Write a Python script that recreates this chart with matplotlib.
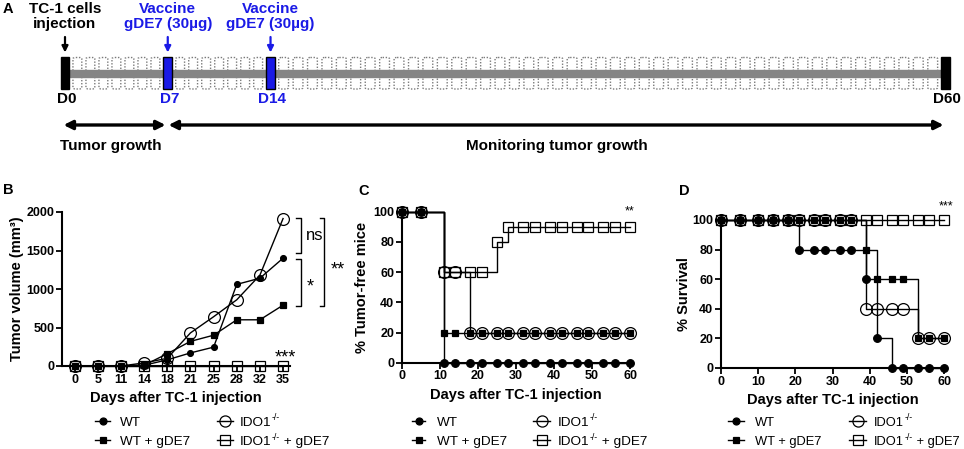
import numpy as np
import matplotlib
matplotlib.use('Agg')
import matplotlib.pyplot as plt
from matplotlib.patches import Rectangle, FancyBboxPatch
from matplotlib.lines import Line2D

plt.rcParams['font.family'] = ['Liberation Sans', 'DejaVu Sans']
plt.rcParams['font.weight'] = 'bold'
plt.rcParams['axes.labelweight'] = 'bold'

# --- A: schedule
sched_days = [0, 7, 14, 60]
sched_labels = ['D0', 'D7', 'D14', 'D60']
sched_top = ['TC-1 cells\ninjection', 'Vaccine\ngDE7 (30µg)', 'Vaccine\ngDE7 (30µg)', '']
sched_vaccine = [False, True, True, False]
phases = [(0, 7, 'Tumor growth'), (7, 60, 'Monitoring tumor growth')]

# --- B: tumor volume
b_days = ['0', '5', '11', '14', '18', '21', '25', '28', '32', '35']
b_wt = [0, 0, 0, 10, 80, 170, 245, 1060, 1140, 1400]
b_wt_gde7 = [0, 0, 0, 10, 160, 320, 400, 600, 600, 790]
b_ido = [0, 0, 0, 40, 100, 430, 640, 860, 1180, 1915]
b_ido_gde7 = [0, 0, 0, 0, 0, 0, 0, 0, 0, 0]

# --- C: tumor-free mice
c_days = [0, 5, 11, 14, 18, 21, 25, 28, 32, 35, 39, 42, 46, 49, 53, 56, 60]
c_wt = [100, 100] + [0] * 15
c_wt_gde7 = [100, 100] + [20] * 15
c_ido = [100, 100, 60, 60] + [20] * 13
c_ido_gde7 = [100, 100, 60, 60, 60, 60, 80] + [90] * 10

# --- D: survival
d_days = [0, 5, 10, 14, 18, 21, 25, 28, 32, 35, 39, 42, 46, 49, 53, 56, 60]
d_wt = [100] * 5 + [80] * 5 + [60, 20] + [0] * 5
d_wt_gde7 = [100] * 10 + [80, 60, 60, 60] + [20] * 3
d_ido = [100] * 10 + [40] * 4 + [20] * 3
d_ido_gde7 = [100] * 17

groups = ['WT', 'WT + gDE7', 'IDO1', 'IDO1 + gDE7']
BLUE = '#1a1ae6'
W, H = 964, 449

fig = plt.figure(figsize=(9.64, 4.49), dpi=100)
renderer = fig.canvas.get_renderer()

# ---------------- panel A (x in days, y in pixels from top)
px_per_day = 14.68
axA = fig.add_axes([0, 1 - 165 / H, 1, 165 / H])
axA.set_xlim(-65 / px_per_day, (W - 65) / px_per_day)
axA.set_ylim(165, 0)
axA.axis('off')

hw = 0.3
for a, b in zip(sched_days[:-1], sched_days[1:]):
    n = b - a
    s, e = a + hw + 0.1, b - hw - 0.1
    per = (e - s) / n
    for k in range(n):
        cx = s + per * (k + 0.5)
        for y0, hh in [(57.5, 14), (76, 13)]:
            axA.add_patch(FancyBboxPatch((cx - per * 0.34, y0), per * 0.68, hh,
                                         boxstyle='round,pad=0,rounding_size=0.2',
                                         fc='none', ec='#7a7a7a', ls=(0, (1, 1.2)), lw=1.0,
                                         mutation_aspect=6))
axA.add_patch(Rectangle((0, 70), 60, 7.3, color='#858585', zorder=2))

for d, lab, top, vac in zip(sched_days, sched_labels, sched_top, sched_vaccine):
    col = BLUE if vac else 'black'
    axA.add_patch(Rectangle((d - hw, 57), 2 * hw, 32, fc=col, ec='black', lw=1, zorder=3))
    axA.text(d + 0.1, 99, lab, color=col, ha='center', va='center', fontsize=11)
    if top:
        axA.text(d, 16.5, top, color=col, ha='center', va='center', fontsize=11,
                 linespacing=1.15)
        axA.annotate('', xy=(d, 52.5), xytext=(d, 37),
                     arrowprops=dict(arrowstyle='-|>', color=col, lw=1.6,
                                     mutation_scale=9, shrinkA=0, shrinkB=0))

for a, b, txt in phases:
    axA.annotate('', xy=(b - 0.15, 125), xytext=(a - 0.1 if a == 0 else a + 0.05, 125),
                 arrowprops=dict(arrowstyle='<|-|>', color='black', lw=2.4,
                                 mutation_scale=13, shrinkA=0, shrinkB=0))
    axA.text((a + b) / 2 - (0.35 if a == 0 else 0), 146, txt, ha='center', va='center', fontsize=11)

fig.text(8 / W, 1 - 9 / H, 'A', fontsize=10.5, ha='center', va='center')


def style(ax):
    for s in ['top', 'right']:
        ax.spines[s].set_visible(False)
    for s in ['left', 'bottom']:
        ax.spines[s].set_linewidth(1.5)
    ax.tick_params(width=1.3, length=4, labelsize=9, pad=1.5)


leg_marks = [('o', 5, 'k'), ('s', 5, 'k'), ('o', 8, 'none'), ('s', 7, 'none')]


def ftext(x, y, s, **kw):
    t = fig.text(x / W, 1 - y / H, s, va='baseline', ha='left', weight='normal', **kw)
    bb = t.get_window_extent(renderer)
    return bb.x1  # right edge in pixels


def legend(cols, rows, fs=9.7):
    # cols: [(handle_x0, handle_x1, text_x), ...]; column-major order
    for i, (name, (m, ms, fc)) in enumerate(zip(groups, leg_marks)):
        hx0, hx1, tx = cols[i // 2]
        y = rows[i % 2]
        fig.add_artist(Line2D([hx0 / W, hx1 / W], [1 - y / H] * 2, color='k', lw=1,
                              transform=fig.transFigure))
        fig.add_artist(Line2D([(hx0 + hx1) / 2 / W], [1 - y / H], color='k', marker=m,
                              ms=ms, mfc=fc, mec='k', mew=0.9, transform=fig.transFigure))
        base = y + 5
        if name.startswith('IDO1'):
            x = ftext(tx, base, 'IDO1', fontsize=fs)
            x = ftext(x + 0.5, base - 5.5, '-/-', fontsize=6.3)
            rest = name[4:]
            if rest:
                ftext(x, base, rest, fontsize=fs)
        else:
            ftext(tx, base, name, fontsize=fs)


# ---------------- panel B
axB = fig.add_axes([62 / W, 1 - 366 / H, 228 / W, 154 / H])
xi = np.arange(len(b_days))
b_sets = [(b_wt, 'o', 4.2, 'k', 6), (b_wt_gde7, 's', 4.5, 'k', 5),
          (b_ido, 'o', 8.5, 'none', 4), (b_ido_gde7, 's', 6.5, 'none', 3)]
for vals, m, ms, fc, z in b_sets:
    axB.plot(xi, vals, color='k', lw=1, marker=m, ms=ms, mfc=fc, mec='k', mew=0.9,
             zorder=z, clip_on=False)
axB.set_xlim(-0.55, 9.3)
axB.set_ylim(0, 2000)
axB.set_xticks(xi, b_days)
axB.set_yticks([0, 500, 1000, 1500, 2000])
style(axB)
axB.set_xlabel('Days after TC-1 injection', fontsize=10.5, labelpad=4)
axB.set_ylabel('Tumor volume (mm³)', fontsize=10.5, labelpad=2)


def bracket(x, y0, y1, w=0.2):
    axB.plot([x - w, x, x, x - w], [y0, y0, y1, y1], color='k', lw=1, clip_on=False)


bracket(9.78, 1920, 1470)
bracket(9.78, 1390, 780)
bracket(10.78, 1924, 780)
axB.text(10.35, 1690, 'ns', fontsize=12, weight='normal', ha='center', va='center')
axB.text(10.18, 1020, '*', fontsize=13, weight='normal', ha='center', va='center')
axB.text(11.35, 1250, '**', fontsize=13, weight='normal', ha='center', va='center')
axB.text(9.1, 100, '***', fontsize=13, weight='normal', ha='center', va='center')
legend([(95, 110, 120), (217, 233, 240)], [421, 440])
fig.text(8 / W, 1 - 190 / H, 'B', fontsize=10.5, ha='center', va='center')

# ---------------- panel C and D
surv_sets = [('o', 5.5, 'k', 6), ('s', 5, 'k', 5), ('o', 8.5, 'none', 4), ('s', 7.5, 'none', 3)]


def km(ax, days, series):
    for vals, (m, ms, fc, z) in zip(series, surv_sets):
        ax.plot(days, vals, drawstyle='steps-post', color='k', lw=1, marker=m, ms=ms,
                mfc=fc, mec='k', mew=0.9, zorder=z, clip_on=False)
    ax.set_xlim(0, 60)
    ax.set_ylim(0, 100)
    ax.set_xticks([0, 10, 20, 30, 40, 50, 60])
    ax.set_yticks([0, 20, 40, 60, 80, 100])
    style(ax)
    ax.set_xlabel('Days after TC-1 injection', fontsize=10.5, labelpad=4)


axC = fig.add_axes([401.7 / W, 1 - 362.7 / H, 228.3 / W, 151 / H])
km(axC, c_days, [c_wt, c_wt_gde7, c_ido, c_ido_gde7])
axC.set_ylabel('% Tumor-free mice', fontsize=10.5, labelpad=3)
axC.text(60, 100, '**', fontsize=9, weight='normal', ha='center', va='center', clip_on=False)
legend([(412, 425, 437), (533, 550, 558)], [421, 440])
fig.text(364 / W, 1 - 191 / H, 'C', fontsize=10.5, ha='center', va='center')

axD = fig.add_axes([721 / W, 1 - 368 / H, 223 / W, 148 / H])
km(axD, d_days, [d_wt, d_wt_gde7, d_ido, d_ido_gde7])
axD.set_ylabel('% Survival', fontsize=10.5, labelpad=1)
axD.text(60.5, 109, '***', fontsize=9, weight='normal', ha='center', va='center', clip_on=False)
legend([(728, 744, 755), (849, 866, 874)], [421, 440], fs=9.3)
fig.text(684 / W, 1 - 191 / H, 'D', fontsize=10.5, ha='center', va='center')

fig.savefig('out.png', dpi=100)
